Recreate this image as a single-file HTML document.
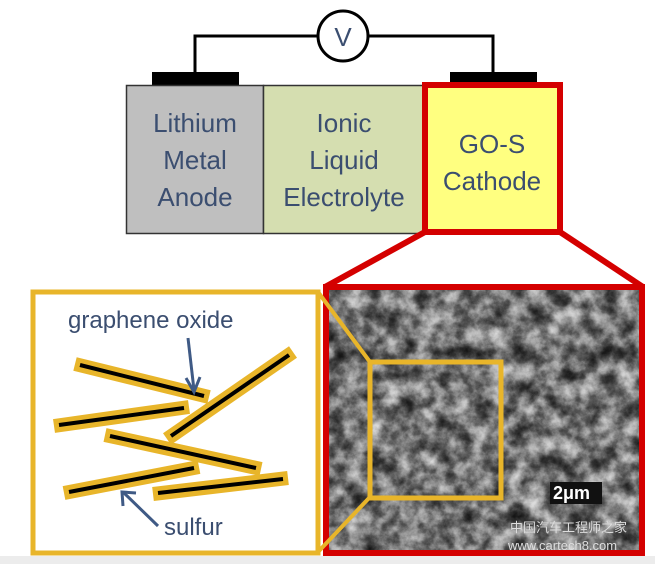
<!DOCTYPE html>
<html><head><style>
body{margin:0;background:#fff;width:655px;height:564px;overflow:hidden}
svg{display:block}
text{font-family:"Liberation Sans",sans-serif}
</style></head><body>
<svg width="655" height="564" viewBox="0 0 655 564" xmlns="http://www.w3.org/2000/svg">
<defs>
<filter id="sem" x="0" y="0" width="100%" height="100%" color-interpolation-filters="sRGB">
<feTurbulence type="fractalNoise" baseFrequency="0.055" numOctaves="5" seed="7" result="n"/>
<feColorMatrix in="n" type="matrix" values="1 0 0 0 0  1 0 0 0 0  1 0 0 0 0  0 0 0 0 1" result="g"/>
<feComponentTransfer in="g">
<feFuncR type="table" tableValues="0.05 0.1 0.2 0.35 0.55 0.72 0.85 0.9"/>
<feFuncG type="table" tableValues="0.05 0.1 0.2 0.35 0.55 0.72 0.85 0.9"/>
<feFuncB type="table" tableValues="0.05 0.1 0.2 0.35 0.55 0.72 0.85 0.9"/>
</feComponentTransfer>
</filter>
</defs>
<rect x="0" y="556" width="655" height="8" fill="#ececec"/>
<polyline points="195,74 195,36 493,36 493,74" fill="none" stroke="#000" stroke-width="3"/>
<circle cx="343" cy="36" r="25" fill="#fff" stroke="#000" stroke-width="3"/>
<text x="343" y="46" font-size="26" fill="#3b4e70" text-anchor="middle">V</text>
<rect x="152" y="72" width="87" height="13" fill="#000"/>
<rect x="450" y="72" width="87" height="13" fill="#000"/>
<rect x="126.5" y="85.5" width="137" height="148" fill="#bfbfbf" stroke="#333" stroke-width="1.5"/>
<rect x="263.5" y="85.5" width="160" height="148" fill="#d5deb0" stroke="#333" stroke-width="1.5"/>
<rect x="425" y="85" width="135" height="147" fill="#ffff80" stroke="#d40000" stroke-width="6"/>
<g font-size="26" fill="#3b4e70" text-anchor="middle">
<text x="195" y="132">Lithium</text><text x="195" y="169">Metal</text><text x="195" y="206">Anode</text>
<text x="344" y="132">Ionic</text><text x="344" y="169">Liquid</text><text x="344" y="206">Electrolyte</text>
<text x="492" y="153">GO-S</text><text x="492" y="190">Cathode</text>
</g>
<line x1="425" y1="232" x2="325" y2="287" stroke="#d40000" stroke-width="6"/>
<line x1="560" y1="232" x2="643" y2="287" stroke="#d40000" stroke-width="6"/>
<rect x="326" y="287" width="316" height="266" fill="#555" filter="url(#sem)"/>
<rect x="326" y="287" width="316" height="266" fill="none" stroke="#d40000" stroke-width="6"/>
<rect x="550" y="482" width="52" height="22" fill="#111"/>
<text x="553" y="499" font-family="Liberation Serif" font-weight="bold" font-size="18" fill="#fff">2μm</text>
<text x="510" y="532" font-size="13" fill="#ddd" font-family="Noto Sans CJK SC,sans-serif">中国汽车工程师之家</text>
<text x="508" y="550" font-size="13" fill="#ddd" font-family="Liberation Mono">www.cartech8.com</text>
<rect x="370" y="362" width="131" height="136" fill="none" stroke="#e8b52a" stroke-width="5"/>
<line x1="318" y1="292" x2="370" y2="362" stroke="#e8b52a" stroke-width="4"/>
<line x1="318" y1="552" x2="370" y2="497" stroke="#e8b52a" stroke-width="4"/>
<rect x="33" y="292" width="285" height="261" fill="#fff" stroke="#e8b52a" stroke-width="5"/>
<text x="68" y="328" font-size="24" fill="#3b4e70">graphene oxide</text>
<text x="164" y="535" font-size="24" fill="#3b4e70">sulfur</text>
<g stroke-linecap="butt">
<g stroke="#e8b52a" stroke-width="14">
<line x1="75" y1="364" x2="209" y2="397"/>
<line x1="54" y1="426" x2="189" y2="407"/>
<line x1="167" y1="439" x2="293" y2="352"/>
<line x1="105" y1="435" x2="261" y2="469"/>
<line x1="64" y1="493" x2="199" y2="467"/>
<line x1="153" y1="494" x2="288" y2="478"/>
</g>
<g stroke="#000" stroke-width="4">
<line x1="80" y1="365" x2="204" y2="396"/>
<line x1="59" y1="425" x2="184" y2="408"/>
<line x1="171" y1="436" x2="289" y2="355"/>
<line x1="110" y1="436" x2="256" y2="468"/>
<line x1="69" y1="492" x2="194" y2="468"/>
<line x1="158" y1="493" x2="283" y2="479"/>
</g>
</g>
<g stroke="#3f5a85" stroke-width="3" fill="none">
<line x1="188" y1="338" x2="194" y2="390"/>
<polyline points="186,378 194,392 200,377"/>
<line x1="158" y1="526" x2="123" y2="492"/>
<polyline points="123,506 122,492 136,493"/>
</g>
</svg>
</body></html>
